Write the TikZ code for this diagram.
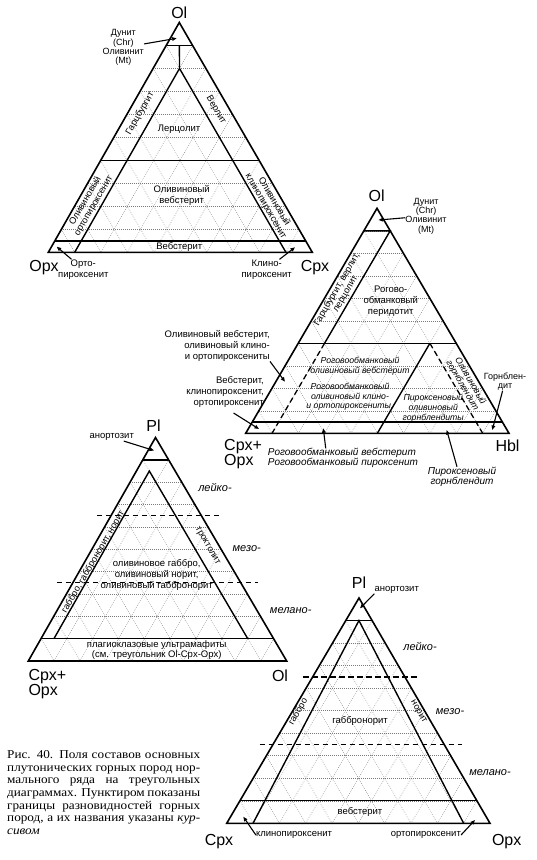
\documentclass[tikz,border=0pt]{standalone}
\usepackage{fontspec}
\setmainfont{Liberation Serif}
\setsansfont{Liberation Sans}
\newfontfamily\capfont[FakeStretch=1.1]{Liberation Serif}
\usetikzlibrary{arrows.meta, calc}
\definecolor{netgray}{HTML}{7A7A7A}

\tikzset{
  rim/.style={line width=1.6pt, line join=miter},
  fieldline/.style={line width=1.4pt},
  limitline/.style={line width=1.3pt, dash pattern=on 5.5pt off 3.5pt},
  netline/.style={netgray, line width=0.5pt, dash pattern=on 0.6pt off 1.4pt},
  apexlab/.style={font=\sffamily\fontsize{16}{13}\selectfont, inner sep=0pt, align=left},
  rock/.style={font=\sffamily\fontsize{9.5}{11}\selectfont, inner sep=0pt, align=center},
  sidelab/.style={font=\sffamily\fontsize{9.2}{9.6}\selectfont, inner sep=0pt, align=center},
  note/.style={font=\sffamily\fontsize{9}{9.3}\selectfont, inner sep=0pt, align=center},
  kind/.style={font=\sffamily\itshape\fontsize{8.7}{9.7}\selectfont, inner sep=0pt, align=center},
  kindbig/.style={font=\sffamily\itshape\fontsize{10}{10}\selectfont, inner sep=0pt, align=left},
  grade/.style={font=\sffamily\itshape\fontsize{11}{12}\selectfont, inner sep=0pt},
  captext/.style={font=\capfont\fontsize{12}{12.6}\selectfont, inner sep=0pt, align=left},
  ptr/.style={-{Triangle[length=4.5pt,width=3.6pt]}, line width=1.1pt},
}

% triangle net with 10% steps and the outline
\newcommand{\ternet}[3]{%
  \foreach \k in {1,...,9}{%
    \pgfmathsetmacro{\wa}{\k/10}%
    \pgfmathsetmacro{\wb}{1-\k/10}%
    \draw[netline] (barycentric cs:#1=\wa,#2=\wb) -- (barycentric cs:#1=\wa,#3=\wb);
    \draw[netline] (barycentric cs:#2=\wa,#1=\wb) -- (barycentric cs:#2=\wa,#3=\wb);
    \draw[netline] (barycentric cs:#3=\wa,#1=\wb) -- (barycentric cs:#3=\wa,#2=\wb);
  }%
  \draw[rim] (#1) -- (#2) -- (#3) -- cycle;
}
\newlength{\capw}\setlength{\capw}{193pt}
\newcommand{\capline}[1]{\makebox[\capw][s]{#1}}

\begin{document}
\begin{tikzpicture}[x=1pt, y=-1pt]
  \useasboundingbox (0,0) rectangle (537,860);

  % Ol - Opx - Cpx
  \coordinate (ol1) at (179.3,22.5);
  \coordinate (opx1) at (48.3,252.3);
  \coordinate (cpx1) at (312.3,252.3);
  \ternet{ol1}{opx1}{cpx1}
  \coordinate (in1) at (barycentric cs:ol1=.8,opx1=.1,cpx1=.1);
  \draw[fieldline] (barycentric cs:ol1=.9,opx1=.1) -- (barycentric cs:ol1=.9,cpx1=.1);
  \draw[fieldline] (barycentric cs:ol1=.9,opx1=.05,cpx1=.05) -- (in1);
  \draw[fieldline] (barycentric cs:opx1=.9,cpx1=.1) -- (in1) -- (barycentric cs:opx1=.1,cpx1=.9);
  \draw[fieldline] (barycentric cs:ol1=.4,opx1=.6) -- (barycentric cs:ol1=.4,cpx1=.6);
  \draw[fieldline] (barycentric cs:ol1=.05,opx1=.95) -- (barycentric cs:ol1=.05,cpx1=.95);
  \node[apexlab, anchor=base] (ol1lab) at (179.3,18.3) {Ol};
  \node[apexlab, anchor=base] (opx1lab) at (44,271.7) {Opx};
  \node[apexlab, anchor=base] (cpx1lab) at (315,271.7) {Cpx};
  \node[note] (dun1) at (123.3,47.5) {Дунит\\(Chr)\\Оливинит\\(Mt)};
  \coordinate (dun1f) at (176.7,38.3);
  \draw[ptr] (dun1) -- (dun1f);
  \node[sidelab, rotate=60] (hzb1) at (140,113.3) {Гарцбургит};
  \node[sidelab, rotate=-60] (wrl1) at (216,110) {Верлит};
  \node[rock] (lhz1) at (179,129.3) {Лерцолит};
  \node[sidelab, rotate=60] (oopx1) at (89.5,203.3) {Оливиновый\\ортопироксенит};
  \node[rock] (owb1) at (181.7,195.7) {Оливиновый\\вебстерит};
  \node[sidelab, rotate=-60] (ocpx1) at (270,204) {Оливиновый\\клинопироксенит};
  \node[rock] (web1) at (179.3,247.3) {Вебстерит};
  \node[rock] (opxn1) at (83.3,269.3) {Орто-\\пироксенит};
  \coordinate (opxn1f) at (56.7,246.7);
  \draw[ptr] (opxn1) -- (opxn1f);
  \node[rock] (cpxn1) at (266.7,269.3) {Клино-\\пироксенит};
  \coordinate (cpxn1f) at (295,247.3);
  \draw[ptr] (cpxn1) -- (cpxn1f);

  % Ol - (Cpx+Opx) - Hbl
  \coordinate (ol2) at (377,208.3);
  \coordinate (px2) at (245.7,433.3);
  \coordinate (hbl2) at (509,433.3);
  \ternet{ol2}{px2}{hbl2}
  \coordinate (hz2) at (barycentric cs:ol2=.9,hbl2=.1);
  \coordinate (ha2) at (barycentric cs:ol2=.4,px2=.5,hbl2=.1);
  \coordinate (hb2) at (barycentric cs:ol2=.4,px2=.1,hbl2=.5);
  \draw[fieldline] (barycentric cs:ol2=.9,px2=.1) -- (hz2) -- (ha2);
  \draw[fieldline] (barycentric cs:ol2=.4,px2=.6) -- (barycentric cs:ol2=.4,hbl2=.6);
  \draw[fieldline] (hb2) -- (barycentric cs:px2=.5,hbl2=.5);
  \draw[fieldline] (barycentric cs:ol2=.05,px2=.95) -- (barycentric cs:ol2=.05,hbl2=.95);
  \draw[limitline] (ha2) -- (barycentric cs:px2=.9,hbl2=.1);
  \draw[limitline] (hb2) -- (barycentric cs:px2=.1,hbl2=.9);
  \node[apexlab, anchor=base] (ol2lab) at (376.7,201.7) {Ol};
  \node[note] (dun2) at (426,216) {Дунит\\(Chr)\\Оливинит\\(Mt)};
  \coordinate (dun2f) at (378.5,220);
  \draw[ptr] (dun2) -- (dun2f);
  \node[sidelab, rotate=60] (hzb2) at (341.3,291.7) {Гарцбургит, верлит,\\лерцолит};
  \node[rock] (hpd2) at (390.7,301.7) {Рогово-\\обманковый\\перидотит};
  \node[kind] (howb2) at (360,366) {Роговообманковый\\оливиновый вебстерит};
  \node[kind] (hopx2) at (350,396.7) {Роговообманковый\\оливиновый клино-\\и ортопироксениты.};
  \node[kind] (pohb2) at (433.3,408) {Пироксеновый\\оливиновый\\горнблендиты};
  \node[kind, font=\sffamily\itshape\fontsize{9}{9.2}\selectfont, rotate=-60] (ohb2) at (466.3,383.3) {Оливиновый\\горнблендит};
  \node[note] (hbn2) at (505,381.7) {Горнблен-\\дит};
  \coordinate (hbn2f) at (492.3,430);
  \draw[ptr] (hbn2) -- (hbn2f);
  \node[rock, align=right, anchor=east] (owbn2) at (270,345.7) {Оливиновый вебстерит,\\оливиновый клино-\\и ортопироксениты};
  \coordinate (owbn2f) at (285,381.7);
  \draw[ptr] (owbn2.south east) -- (owbn2f);
  \node[rock, align=right, anchor=east] (webn2) at (264,392) {Вебстерит,\\клинопироксенит,\\ортопироксенит};
  \coordinate (webn2f) at (259,429);
  \draw[ptr, shorten <=10pt] (webn2.south) -- (webn2f);
  \node[apexlab, anchor=west] (px2lab) at (224,454) {Cpx+\\Opx};
  \node[apexlab, anchor=base] (hbl2lab) at (507.5,451.7) {Hbl};
  \node[kindbig] (hwb2) at (343,458.3) {Роговообманковый вебстерит\\Роговообманковый пироксенит};
  \coordinate (hwb2f) at (323.3,428.3);
  \draw[ptr] ($(hwb2.north west)+(58,0)$) -- (hwb2f);
  \node[kindbig, align=center] (pgb2) at (462,476.7) {Пироксеновый\\горнблендит};
  \coordinate (pgb2f) at (446.7,430);
  \draw[ptr] ($(pgb2.north)+(-5,0)$) -- (pgb2f);

  % Pl - (Cpx+Opx) - Ol
  \coordinate (pl3) at (155.5,437.5);
  \coordinate (px3) at (28.3,661);
  \coordinate (olv3) at (286.7,661);
  \ternet{pl3}{px3}{olv3}
  \coordinate (in3) at (barycentric cs:pl3=.85,px3=.1,olv3=.05);
  \draw[fieldline] (barycentric cs:pl3=.9,px3=.1) -- (barycentric cs:pl3=.9,olv3=.1);
  \draw[fieldline] (barycentric cs:pl3=.1,px3=.85,olv3=.05) -- (in3) -- (barycentric cs:pl3=.1,px3=.1,olv3=.8);
  \draw[fieldline] (barycentric cs:pl3=.1,px3=.9) -- (barycentric cs:pl3=.1,olv3=.9);
  \coordinate (lk3a) at (barycentric cs:pl3=.65,px3=.35);
  \coordinate (lk3b) at (barycentric cs:pl3=.65,olv3=.35);
  \coordinate (ml3a) at (barycentric cs:pl3=.35,px3=.65);
  \coordinate (ml3b) at (barycentric cs:pl3=.35,olv3=.65);
  \draw[limitline] ($(lk3a)+(-14,0)$) -- ($(lk3b)+(20,0)$);
  \draw[limitline] ($(ml3a)+(-16,0)$) -- ($(ml3b)+(17,0)$);
  \node[apexlab, anchor=base] (pl3lab) at (153.5,431.7) {Pl};
  \node[rock] (ano3) at (111.7,437.3) {анортозит};
  \coordinate (ano3f) at (154,450.5);
  \draw[ptr] (ano3) -- (ano3f);
  \node[grade] (lei3) at (215,487.3) {лейко-};
  \node[grade] (mez3) at (246.7,548.3) {мезо-};
  \node[grade] (mel3) at (290.7,610.7) {мелано-};
  \node[sidelab, rotate=60] (gab3) at (93.3,562) {габбро, габбронорит, норит};
  \node[sidelab, rotate=-60] (trc3) at (207.3,546) {троктолит};
  \node[rock] (olg3) at (156.7,575) {оливиновое габбро,\\оливиновый норит,\\оливиновый габбронорит};
  \node[rock, font=\sffamily\fontsize{9.5}{10}\selectfont] (plu3) at (156.7,650) {плагиоклазовые ультрамафиты\\(см. треугольник Ol-Cpx-Opx)};
  \node[apexlab, anchor=west] (px3lab) at (28.3,684) {Cpx+\\Opx};
  \node[apexlab, anchor=base] (olv3lab) at (280,681.7) {Ol};

  % Pl - Cpx - Opx
  \coordinate (pl4) at (359,598);
  \coordinate (cpx4) at (226.7,823.3);
  \coordinate (opx4) at (490,823.3);
  \ternet{pl4}{cpx4}{opx4}
  \coordinate (in4) at (barycentric cs:pl4=.9,cpx4=.05,opx4=.05);
  \draw[fieldline] (barycentric cs:pl4=.9,cpx4=.1) -- (barycentric cs:pl4=.9,opx4=.1);
  \draw[fieldline] (barycentric cs:cpx4=.9,opx4=.1) -- (in4) -- (barycentric cs:cpx4=.1,opx4=.9);
  \draw[fieldline] (barycentric cs:pl4=.1,cpx4=.9) -- (barycentric cs:pl4=.1,opx4=.9);
  \coordinate (lk4a) at (barycentric cs:pl4=.65,cpx4=.35);
  \coordinate (lk4b) at (barycentric cs:pl4=.65,opx4=.35);
  \coordinate (ml4a) at (barycentric cs:pl4=.35,cpx4=.65);
  \coordinate (ml4b) at (barycentric cs:pl4=.35,opx4=.65);
  \draw[limitline] ($(lk4a)+(-9.5,0)$) -- ($(lk4b)+(15,0)$);
  \draw[limitline] ($(ml4a)+(-13.5,0)$) -- ($(ml4b)+(17.5,0)$);
  \node[apexlab, anchor=base] (pl4lab) at (359,588.3) {Pl};
  \node[rock] (ano4) at (396.7,590) {анортозит};
  \coordinate (ano4f) at (360,608.3);
  \draw[ptr] (ano4.south west) -- (ano4f);
  \node[grade] (lei4) at (420,646.7) {лейко-};
  \node[grade] (mez4) at (450,711.7) {мезо-};
  \node[grade] (mel4) at (490,772.7) {мелано-};
  \node[sidelab, rotate=60] (gab4) at (298.3,711.7) {габбро};
  \node[sidelab, rotate=-60] (nor4) at (418.3,711.7) {норит};
  \node[rock] (gbn4) at (360,720.7) {габбронорит};
  \node[rock] (web4) at (360,811.7) {вебстерит};
  \node[rock] (cpxn4) at (294,835) {клинопироксенит};
  \coordinate (cpxn4f) at (243.3,816.7);
  \draw[ptr] (cpxn4.west) -- (cpxn4f);
  \node[rock] (opxn4) at (425.8,835) {ортопироксенит};
  \coordinate (opxn4f) at (475,820);
  \draw[ptr] (opxn4.east) -- (opxn4f);
  \node[apexlab, anchor=base] (cpx4lab) at (219,845) {Cpx};
  \node[apexlab, anchor=base] (opx4lab) at (506.7,845) {Opx};

  \node[captext, anchor=north west] (capt) at (7,750.5) {%
    \capline{Рис. 40. Поля составов основных}\\
    \capline{плутонических горных пород нор-}\\
    \capline{мального ряда на треугольных}\\
    \capline{диаграммах. Пунктиром показаны}\\
    \capline{границы разновидностей горных}\\
    \capline{пород, а их названия указаны \textit{кур-}}\\
    \textit{сивом}};
\end{tikzpicture}
\end{document}
